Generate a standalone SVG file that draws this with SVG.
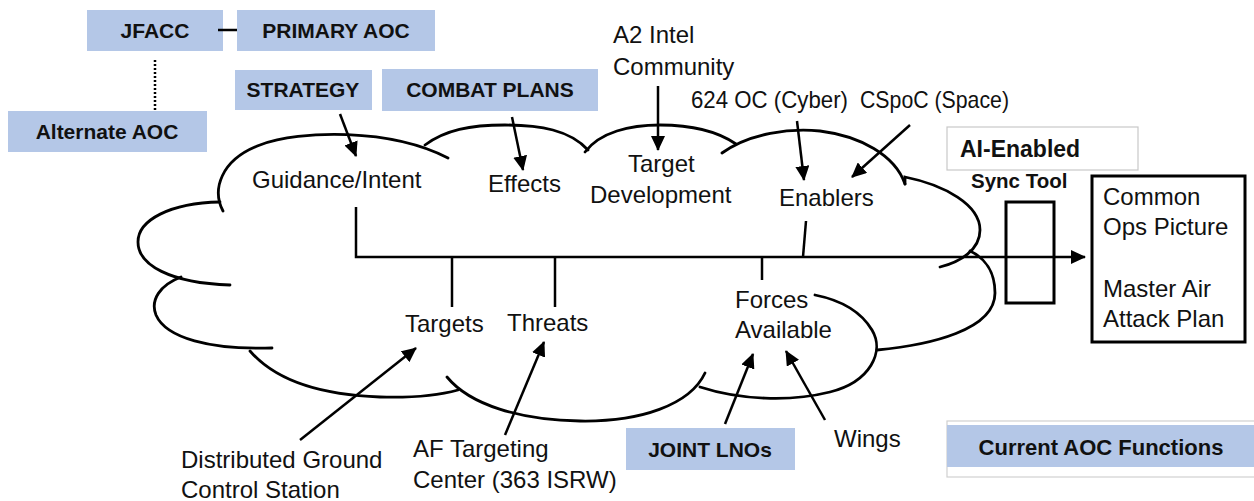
<svg xmlns="http://www.w3.org/2000/svg" width="1254" height="501" viewBox="0 0 1254 501">
  <style>
    .box { fill: #B4C7E7; }
    .lbl { font-family: "Liberation Sans", Arial, sans-serif; font-weight: bold; font-size: 21px; fill: #111; text-anchor: middle; }
    .txt { font-family: "Liberation Sans", Arial, sans-serif; font-size: 24px; fill: #111; }
    .cloud { fill: none; stroke: #000; stroke-width: 2.8; stroke-linecap: round; }
    .ln { fill: none; stroke: #000; stroke-width: 2.5; }
    .arr { fill: none; stroke: #000; stroke-width: 2.5; marker-end: url(#head); }
  </style>
  <defs>
    <marker id="head" markerUnits="userSpaceOnUse" markerWidth="16" markerHeight="14" refX="14" refY="7" orient="auto">
      <path d="M0,0 L15,7 L0,14 z" fill="#000"/>
    </marker>
  </defs>
  <rect width="1254" height="501" fill="#fff"/>

  <!-- command nodes -->
  <g id="jfacc">
    <rect class="box" x="87" y="10" width="136" height="41"/>
    <text class="lbl" x="155" y="38">JFACC</text>
  </g>
  <g id="primary-aoc">
    <rect class="box" x="237" y="10" width="198" height="41"/>
    <text class="lbl" x="336" y="38">PRIMARY AOC</text>
  </g>
  <g id="alternate-aoc">
    <rect class="box" x="8" y="111" width="199" height="41"/>
    <text class="lbl" x="107" y="139">Alternate AOC</text>
  </g>
  <g id="strategy">
    <rect class="box" x="235" y="70" width="137" height="40"/>
    <text class="lbl" x="303" y="97">STRATEGY</text>
  </g>
  <g id="combat-plans">
    <rect class="box" x="382" y="69" width="216" height="42"/>
    <text class="lbl" x="490" y="97">COMBAT PLANS</text>
  </g>

  <!-- cloud of AOC functions -->
  <g id="cloud">
    <path class="cloud" d="M223,211 C212,190 220,160 260,145 C300,130 390,128 448,158"/>
    <path class="cloud" d="M220,202 C170,203 138,220 138,242 C138,265 170,283 230,285"/>
    <path class="cloud" d="M181,277 C160,285 150,300 156,315 C166,338 210,350 272,348"/>
    <path class="cloud" d="M250,351 C275,380 320,395 380,397 C415,398 440,395 458,390"/>
    <path class="cloud" d="M447,377 C470,405 520,420 580,421 C640,422 690,405 705,373"/>
    <path class="cloud" d="M700,387 C740,400 790,402 830,392 C870,382 885,352 872,330 C860,310 840,300 815,295"/>
    <path class="cloud" d="M877,350 C930,345 995,330 995,293 C995,272 985,258 970,251"/>
    <path class="cloud" d="M905,184 L905,177 C945,185 980,205 980,230 C980,250 960,262 940,267"/>
    <path class="cloud" d="M722,153 C750,133 790,128 820,131 C860,136 895,155 905,184"/>
    <path class="cloud" d="M585,152 C600,132 630,125 660,125 C695,125 720,133 736,144"/>
    <path class="cloud" d="M425,145 C445,130 470,125 505,125 C540,125 570,130 588,150"/>
  </g>

  <!-- function labels inside the cloud -->
  <g id="guidance"><text class="txt" x="252" y="188">Guidance/Intent</text></g>
  <g id="effects"><text class="txt" x="488" y="192">Effects</text></g>
  <g id="target-development">
    <text class="txt" x="628" y="172">Target</text>
    <text class="txt" x="590" y="203">Development</text>
  </g>
  <g id="enablers"><text class="txt" x="779" y="206">Enablers</text></g>
  <g id="targets"><text class="txt" x="405" y="332">Targets</text></g>
  <g id="threats"><text class="txt" x="507" y="331">Threats</text></g>
  <g id="forces">
    <text class="txt" x="735" y="308">Forces</text>
    <text class="txt" x="735" y="338">Available</text>
  </g>

  <!-- outside contributors -->
  <g id="a2-intel">
    <text class="txt" x="613" y="43">A2 Intel</text>
    <text class="txt" x="613" y="75">Community</text>
  </g>
  <g id="cyber"><text class="txt" x="691" y="108" textLength="157" lengthAdjust="spacingAndGlyphs">624 OC (Cyber)</text></g>
  <g id="space"><text class="txt" x="860" y="108" textLength="149" lengthAdjust="spacingAndGlyphs">CSpoC (Space)</text></g>
  <g id="dgcs">
    <text class="txt" x="181" y="468">Distributed Ground</text>
    <text class="txt" x="181" y="498">Control Station</text>
  </g>
  <g id="af-targeting">
    <text class="txt" x="413" y="457">AF Targeting</text>
    <text class="txt" x="413" y="488">Center (363 ISRW)</text>
  </g>
  <g id="joint-lnos">
    <rect class="box" x="626" y="428" width="169" height="42"/>
    <text class="lbl" x="710" y="457">JOINT LNOs</text>
  </g>
  <g id="wings"><text class="txt" x="834" y="447">Wings</text></g>

  <!-- sync tool and outputs -->
  <g id="ai-sync">
    <rect x="947" y="127" width="191" height="43" fill="#fff" stroke="#c8c8c8" stroke-width="1.2"/>
    <text class="lbl" x="960" y="157" style="text-anchor:start;font-size:23px">AI-Enabled</text>
    <text class="lbl" x="971" y="188" style="text-anchor:start;font-size:20.5px">Sync Tool</text>
    <rect x="1006" y="202" width="48" height="101" fill="none" stroke="#000" stroke-width="3"/>
  </g>
  <g id="output">
    <rect x="1092" y="176" width="153" height="166" fill="#fff" stroke="#000" stroke-width="3"/>
    <text class="txt" x="1103" y="205">Common</text>
    <text class="txt" x="1103" y="235">Ops Picture</text>
    <text class="txt" x="1103" y="297">Master Air</text>
    <text class="txt" x="1103" y="327">Attack Plan</text>
  </g>
  <g id="legend">
    <rect x="947" y="421" width="310" height="56" fill="#fff" stroke="#d0d0d0" stroke-width="1.2"/>
    <rect class="box" x="947" y="425" width="310" height="42"/>
    <text class="lbl" x="1101" y="455" style="font-size:22px">Current AOC Functions</text>
  </g>

  <!-- connectors -->
  <g id="connectors">
    <line class="ln" x1="218" y1="30" x2="237" y2="30"/>
    <line class="ln" x1="155" y1="60" x2="155" y2="110" stroke-dasharray="2,2"/>
    <line class="arr" x1="340" y1="114" x2="356" y2="156"/>
    <line class="arr" x1="512" y1="117" x2="523" y2="170"/>
    <line class="arr" x1="658" y1="86" x2="658" y2="150"/>
    <line class="arr" x1="797" y1="121" x2="804" y2="180"/>
    <line class="arr" x1="910" y1="125" x2="852" y2="177"/>
    <line class="arr" x1="300" y1="440" x2="416" y2="348"/>
    <line class="arr" x1="505" y1="435" x2="544" y2="342"/>
    <line class="arr" x1="725" y1="424" x2="753" y2="354"/>
    <line class="arr" x1="825" y1="420" x2="786" y2="351"/>
    <polyline class="arr" points="356,207 356,257 1085,257"/>
    <line class="ln" x1="452" y1="257" x2="452" y2="307"/>
    <line class="ln" x1="555" y1="257" x2="555" y2="307"/>
    <line class="ln" x1="806" y1="221" x2="803" y2="257"/>
    <line class="ln" x1="762" y1="257" x2="762" y2="280"/>
  </g>
</svg>
